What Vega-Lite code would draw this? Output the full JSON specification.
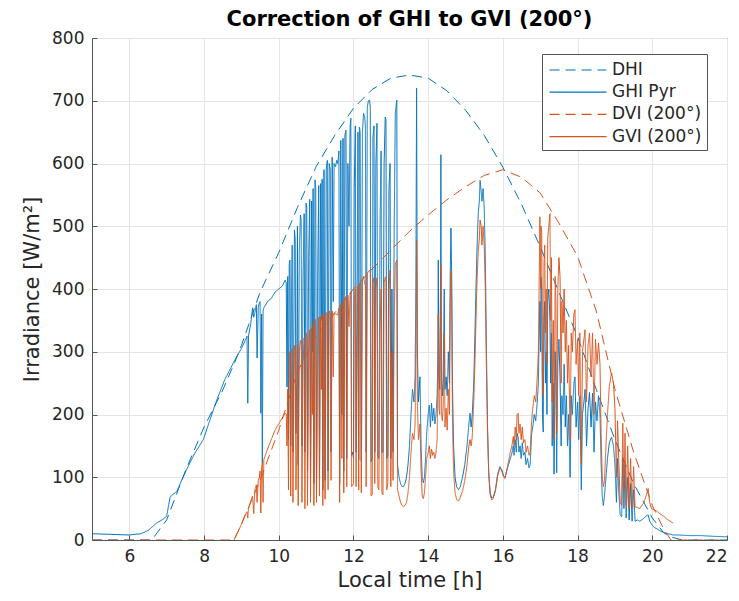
{
  "$schema": "https://vega.github.io/schema/vega-lite/v6.json",
  "width": 635,
  "height": 502,
  "autosize": {"type": "none"},
  "padding": {"left": 92, "top": 38, "right": 12, "bottom": 61},
  "background": "white",
  "title": {"text": "Correction of GHI to GVI (200°)", "fontSize": 21, "fontWeight": "bold", "font": "DejaVu Sans", "color": "#000000", "offset": -1},
  "config": {
    "view": {"stroke": "#555555", "strokeWidth": 1},
    "axis": {"labelFont": "DejaVu Sans", "titleFont": "DejaVu Sans", "labelFontSize": 17, "titleFontSize": 21, "titleFontWeight": "normal", "labelColor": "#262626", "titleColor": "#262626", "domainColor": "#555555", "tickColor": "#555555", "gridColor": "#e4e4e4", "tickSize": -5, "labelPadding": 13},
    "legend": {"labelFont": "DejaVu Sans", "labelFontSize": 17, "labelColor": "#262626"}
  },
  "datasets": {
    "meas": [
      {"t":5.0,"ghi":10},{"t":5.5,"ghi":9},{"t":6.0,"ghi":8},{"t":6.3,"ghi":10},{"t":6.5,"ghi":15},{"t":6.73,"ghi":27},{"t":6.9,"ghi":33},{"t":7.0,"ghi":38},{"t":7.05,"ghi":55},{"t":7.09,"ghi":68},{"t":7.15,"ghi":72},{"t":7.27,"ghi":77},{"t":7.4,"ghi":95},{"t":7.53,"ghi":112},{"t":7.75,"ghi":138},{"t":7.98,"ghi":160},{"t":8.15,"ghi":190},{"t":8.34,"ghi":223},{"t":8.55,"ghi":255},
      {"t":8.8,"ghi":284,"gvi":0},{"t":8.9,"ghi":295,"gvi":12},{"t":9.0,"ghi":305,"gvi":25},{"t":9.1,"ghi":318,"gvi":40},{"t":9.15,"ghi":325,"gvi":45},{"t":9.17,"ghi":218,"gvi":35},{"t":9.19,"ghi":325,"gvi":50},{"t":9.25,"ghi":345,"gvi":62},{"t":9.3,"ghi":370,"gvi":70},{"t":9.33,"ghi":355,"gvi":42},{"t":9.36,"ghi":362,"gvi":80},{"t":9.4,"ghi":375,"gvi":88},{"t":9.42,"ghi":290,"gvi":60},{"t":9.45,"ghi":370,"gvi":95},{"t":9.48,"ghi":378,"gvi":100},{"t":9.5,"ghi":380,"gvi":110},{"t":9.52,"ghi":202,"gvi":43},{"t":9.54,"ghi":360,"gvi":115},{"t":9.56,"ghi":123,"gvi":123},{"t":9.58,"ghi":365,"gvi":60},{"t":9.6,"ghi":370,"gvi":128},{"t":9.7,"ghi":380,"gvi":145},{"t":9.8,"ghi":385,"gvi":160},{"t":9.9,"ghi":395,"gvi":175},{"t":10.0,"ghi":400,"gvi":185},{"t":10.1,"ghi":405,"gvi":195},{"t":10.17,"ghi":414,"gvi":202},
      {"t":10.20,"ghi":410,"gvi":200},{"t":10.22,"ghi":244,"gvi":150},{"t":10.24,"ghi":420,"gvi":240},{"t":10.26,"ghi":160,"gvi":80},{"t":10.28,"ghi":440,"gvi":290},{"t":10.30,"ghi":446,"gvi":300},{"t":10.32,"ghi":150,"gvi":70},{"t":10.34,"ghi":380,"gvi":250},{"t":10.36,"ghi":470,"gvi":305},{"t":10.38,"ghi":140,"gvi":60},{"t":10.40,"ghi":300,"gvi":200},{"t":10.42,"ghi":494,"gvi":310},{"t":10.44,"ghi":480,"gvi":300},{"t":10.46,"ghi":170,"gvi":80},{"t":10.48,"ghi":250,"gvi":140},{"t":10.50,"ghi":500,"gvi":312},{"t":10.52,"ghi":120,"gvi":55},{"t":10.55,"ghi":460,"gvi":300},{"t":10.58,"ghi":518,"gvi":318},{"t":10.60,"ghi":510,"gvi":315},{"t":10.62,"ghi":150,"gvi":60},{"t":10.65,"ghi":420,"gvi":280},{"t":10.68,"ghi":520,"gvi":322},{"t":10.70,"ghi":140,"gvi":50},{"t":10.73,"ghi":537,"gvi":330},{"t":10.75,"ghi":530,"gvi":328},{"t":10.77,"ghi":110,"gvi":55},{"t":10.80,"ghi":450,"gvi":300},{"t":10.83,"ghi":543,"gvi":335},{"t":10.85,"ghi":100,"gvi":60},{"t":10.88,"ghi":540,"gvi":338},{"t":10.90,"ghi":300,"gvi":200},{"t":10.92,"ghi":560,"gvi":345},{"t":10.94,"ghi":90,"gvi":55},{"t":10.97,"ghi":574,"gvi":352},{"t":10.99,"ghi":560,"gvi":348},
      {"t":11.01,"ghi":80,"gvi":60},{"t":11.04,"ghi":420,"gvi":280},{"t":11.07,"ghi":565,"gvi":355},{"t":11.09,"ghi":100,"gvi":70},{"t":11.12,"ghi":568,"gvi":356},{"t":11.14,"ghi":350,"gvi":240},{"t":11.16,"ghi":575,"gvi":358},{"t":11.18,"ghi":80,"gvi":55},{"t":11.21,"ghi":590,"gvi":360},{"t":11.24,"ghi":95,"gvi":65},{"t":11.27,"ghi":590,"gvi":362},{"t":11.30,"ghi":605,"gvi":362},{"t":11.32,"ghi":110,"gvi":80},{"t":11.35,"ghi":600,"gvi":365},{"t":11.38,"ghi":590,"gvi":360},{"t":11.40,"ghi":140,"gvi":95},{"t":11.43,"ghi":610,"gvi":365},{"t":11.46,"ghi":380,"gvi":260},{"t":11.48,"ghi":600,"gvi":362},{"t":11.52,"ghi":595,"gvi":360},{"t":11.55,"ghi":605,"gvi":360},{"t":11.58,"ghi":600,"gvi":358},{"t":11.61,"ghi":620,"gvi":370},{"t":11.63,"ghi":90,"gvi":60},{"t":11.66,"ghi":637,"gvi":375},{"t":11.69,"ghi":200,"gvi":130},{"t":11.72,"ghi":640,"gvi":380},{"t":11.74,"ghi":110,"gvi":75},{"t":11.77,"ghi":645,"gvi":384},{"t":11.80,"ghi":653,"gvi":388},{"t":11.82,"ghi":130,"gvi":85},{"t":11.85,"ghi":600,"gvi":390},{"t":11.88,"ghi":500,"gvi":340},{"t":11.91,"ghi":660,"gvi":392},{"t":11.93,"ghi":672,"gvi":396},{"t":11.95,"ghi":135,"gvi":85},{"t":11.98,"ghi":140,"gvi":88},
      {"t":12.00,"ghi":130,"gvi":90},{"t":12.02,"ghi":560,"gvi":380},{"t":12.05,"ghi":660,"gvi":400},{"t":12.07,"ghi":140,"gvi":85},{"t":12.10,"ghi":420,"gvi":300},{"t":12.12,"ghi":650,"gvi":405},{"t":12.14,"ghi":128,"gvi":80},{"t":12.16,"ghi":658,"gvi":408},{"t":12.18,"ghi":650,"gvi":410},{"t":12.21,"ghi":125,"gvi":75},{"t":12.24,"ghi":650,"gvi":415},{"t":12.27,"ghi":680,"gvi":420},{"t":12.30,"ghi":674,"gvi":409},{"t":12.32,"ghi":660,"gvi":405},{"t":12.34,"ghi":140,"gvi":85},{"t":12.37,"ghi":690,"gvi":425},{"t":12.40,"ghi":700,"gvi":428},{"t":12.43,"ghi":701,"gvi":430},{"t":12.45,"ghi":690,"gvi":425},{"t":12.47,"ghi":125,"gvi":70},{"t":12.50,"ghi":130,"gvi":72},{"t":12.52,"ghi":640,"gvi":410},{"t":12.55,"ghi":660,"gvi":418},{"t":12.57,"ghi":140,"gvi":90},{"t":12.60,"ghi":600,"gvi":400},{"t":12.63,"ghi":664,"gvi":418},{"t":12.65,"ghi":135,"gvi":85},{"t":12.68,"ghi":130,"gvi":80},{"t":12.71,"ghi":500,"gvi":330},{"t":12.74,"ghi":620,"gvi":400},{"t":12.76,"ghi":140,"gvi":75},{"t":12.79,"ghi":140,"gvi":72},{"t":12.82,"ghi":600,"gvi":410},{"t":12.85,"ghi":674,"gvi":419},{"t":12.87,"ghi":670,"gvi":418},{"t":12.89,"ghi":130,"gvi":80},{"t":12.92,"ghi":135,"gvi":90},{"t":12.95,"ghi":560,"gvi":400},{"t":12.98,"ghi":600,"gvi":430},
      {"t":13.00,"ghi":130,"gvi":85},{"t":13.03,"ghi":400,"gvi":300},{"t":13.06,"ghi":140,"gvi":95},{"t":13.09,"ghi":500,"gvi":350},{"t":13.12,"ghi":680,"gvi":440},{"t":13.16,"ghi":701,"gvi":446},{"t":13.18,"ghi":120,"gvi":80},{"t":13.22,"ghi":100,"gvi":70},{"t":13.26,"ghi":90,"gvi":60},{"t":13.30,"ghi":85,"gvi":55},{"t":13.34,"ghi":85,"gvi":53},{"t":13.38,"ghi":90,"gvi":55},{"t":13.42,"ghi":100,"gvi":60},{"t":13.46,"ghi":120,"gvi":75},{"t":13.50,"ghi":150,"gvi":100},{"t":13.54,"ghi":200,"gvi":140},{"t":13.58,"ghi":240,"gvi":170},{"t":13.62,"ghi":220,"gvi":160},{"t":13.65,"ghi":260,"gvi":185},{"t":13.67,"ghi":400,"gvi":300},{"t":13.69,"ghi":720,"gvi":478},{"t":13.71,"ghi":300,"gvi":220},{"t":13.74,"ghi":220,"gvi":160},{"t":13.78,"ghi":260,"gvi":185},{"t":13.81,"ghi":150,"gvi":110},{"t":13.84,"ghi":100,"gvi":70},{"t":13.87,"ghi":91,"gvi":66},{"t":13.90,"ghi":100,"gvi":75},{"t":13.93,"ghi":130,"gvi":100},
      {"t":13.96,"ghi":170,"gvi":130},{"t":14.00,"ghi":200,"gvi":140},{"t":14.03,"ghi":215,"gvi":150},{"t":14.06,"ghi":180,"gvi":130},{"t":14.09,"ghi":218,"gvi":145},{"t":14.12,"ghi":190,"gvi":135},{"t":14.15,"ghi":210,"gvi":140},{"t":14.18,"ghi":185,"gvi":130},{"t":14.21,"ghi":200,"gvi":140},{"t":14.24,"ghi":230,"gvi":160},{"t":14.26,"ghi":300,"gvi":250},{"t":14.27,"ghi":446,"gvi":360},{"t":14.29,"ghi":260,"gvi":210},{"t":14.31,"ghi":240,"gvi":200},{"t":14.33,"ghi":400,"gvi":350},{"t":14.34,"ghi":614,"gvi":440},{"t":14.36,"ghi":260,"gvi":200},{"t":14.38,"ghi":230,"gvi":190},{"t":14.40,"ghi":250,"gvi":210},{"t":14.43,"ghi":400,"gvi":330},{"t":14.45,"ghi":240,"gvi":180},{"t":14.48,"ghi":260,"gvi":210},{"t":14.51,"ghi":230,"gvi":175},{"t":14.54,"ghi":300,"gvi":240},{"t":14.57,"ghi":250,"gvi":200},{"t":14.59,"ghi":420,"gvi":380},{"t":14.61,"ghi":497,"gvi":430},{"t":14.63,"ghi":420,"gvi":380},{"t":14.65,"ghi":250,"gvi":190},{"t":14.68,"ghi":150,"gvi":110},{"t":14.72,"ghi":100,"gvi":75},{"t":14.76,"ghi":85,"gvi":65},{"t":14.81,"ghi":80,"gvi":62},{"t":14.86,"ghi":85,"gvi":68},{"t":14.92,"ghi":100,"gvi":78},{"t":14.98,"ghi":120,"gvi":95},
      {"t":15.04,"ghi":150,"gvi":120},{"t":15.09,"ghi":185,"gvi":150},{"t":15.12,"ghi":202,"gvi":160},{"t":15.15,"ghi":180,"gvi":150},{"t":15.18,"ghi":200,"gvi":165},{"t":15.22,"ghi":250,"gvi":220},{"t":15.26,"ghi":350,"gvi":300},{"t":15.30,"ghi":450,"gvi":400},{"t":15.34,"ghi":520,"gvi":460},{"t":15.37,"ghi":540,"gvi":480},{"t":15.39,"ghi":573,"gvi":510},{"t":15.42,"ghi":555,"gvi":500},{"t":15.44,"ghi":540,"gvi":470},{"t":15.47,"ghi":560,"gvi":500},{"t":15.50,"ghi":530,"gvi":470},{"t":15.53,"ghi":450,"gvi":400},{"t":15.56,"ghi":300,"gvi":270},{"t":15.59,"ghi":180,"gvi":170},{"t":15.62,"ghi":110,"gvi":105},{"t":15.66,"ghi":75,"gvi":72},{"t":15.70,"ghi":67,"gvi":64},{"t":15.74,"ghi":68,"gvi":66},{"t":15.80,"ghi":80,"gvi":78},{"t":15.86,"ghi":105,"gvi":102},{"t":15.92,"ghi":117,"gvi":115},{"t":15.97,"ghi":112,"gvi":110},
      {"t":16.02,"ghi":102,"gvi":100},{"t":16.06,"ghi":100,"gvi":98},{"t":16.10,"ghi":110,"gvi":110},{"t":16.15,"ghi":120,"gvi":125},{"t":16.20,"ghi":130,"gvi":140},{"t":16.24,"ghi":138,"gvi":150},{"t":16.28,"ghi":150,"gvi":165},{"t":16.30,"ghi":135,"gvi":150},{"t":16.33,"ghi":160,"gvi":180},{"t":16.36,"ghi":140,"gvi":160},{"t":16.38,"ghi":170,"gvi":200},{"t":16.41,"ghi":163,"gvi":202},{"t":16.43,"ghi":140,"gvi":170},{"t":16.46,"ghi":150,"gvi":185},{"t":16.49,"ghi":130,"gvi":160},{"t":16.52,"ghi":155,"gvi":180},{"t":16.55,"ghi":135,"gvi":155},{"t":16.59,"ghi":140,"gvi":160},{"t":16.62,"ghi":120,"gvi":140},{"t":16.66,"ghi":130,"gvi":150},{"t":16.70,"ghi":115,"gvi":135},{"t":16.73,"ghi":120,"gvi":140},{"t":16.77,"ghi":170,"gvi":190},{"t":16.80,"ghi":180,"gvi":210},{"t":16.84,"ghi":200,"gvi":230},{"t":16.88,"ghi":190,"gvi":220},{"t":16.92,"ghi":220,"gvi":260},{"t":16.95,"ghi":250,"gvi":300},{"t":16.97,"ghi":320,"gvi":400},{"t":16.99,"ghi":380,"gvi":515},
      {"t":17.01,"ghi":300,"gvi":400},{"t":17.02,"ghi":419,"gvi":500},{"t":17.04,"ghi":400,"gvi":490},{"t":17.06,"ghi":200,"gvi":260},{"t":17.08,"ghi":172,"gvi":230},{"t":17.10,"ghi":350,"gvi":440},{"t":17.12,"ghi":380,"gvi":470},{"t":17.14,"ghi":250,"gvi":330},{"t":17.16,"ghi":300,"gvi":400},{"t":17.18,"ghi":200,"gvi":280},{"t":17.20,"ghi":380,"gvi":480},{"t":17.23,"ghi":400,"gvi":500},{"t":17.26,"ghi":350,"gvi":520},{"t":17.28,"ghi":250,"gvi":350},{"t":17.30,"ghi":330,"gvi":450},{"t":17.32,"ghi":150,"gvi":220},{"t":17.35,"ghi":250,"gvi":350},{"t":17.37,"ghi":105,"gvi":160},{"t":17.40,"ghi":300,"gvi":420},{"t":17.42,"ghi":250,"gvi":380},{"t":17.44,"ghi":107,"gvi":170},{"t":17.47,"ghi":280,"gvi":400},{"t":17.50,"ghi":320,"gvi":450},{"t":17.53,"ghi":260,"gvi":420},{"t":17.56,"ghi":150,"gvi":250},{"t":17.58,"ghi":230,"gvi":380},{"t":17.61,"ghi":200,"gvi":330},{"t":17.64,"ghi":280,"gvi":400},{"t":17.67,"ghi":180,"gvi":300},{"t":17.70,"ghi":230,"gvi":350},{"t":17.73,"ghi":150,"gvi":250},{"t":17.76,"ghi":200,"gvi":310},{"t":17.80,"ghi":100,"gvi":160},{"t":17.83,"ghi":230,"gvi":330},{"t":17.86,"ghi":200,"gvi":300},{"t":17.90,"ghi":250,"gvi":360},{"t":17.93,"ghi":260,"gvi":367},{"t":17.96,"ghi":180,"gvi":280},
      {"t":18.00,"ghi":220,"gvi":320},{"t":18.03,"ghi":160,"gvi":230},{"t":18.06,"ghi":230,"gvi":330},{"t":18.10,"ghi":80,"gvi":120},{"t":18.13,"ghi":200,"gvi":300},{"t":18.17,"ghi":220,"gvi":320},{"t":18.20,"ghi":240,"gvi":335},{"t":18.24,"ghi":150,"gvi":220},{"t":18.28,"ghi":210,"gvi":310},{"t":18.32,"ghi":235,"gvi":330},{"t":18.36,"ghi":180,"gvi":260},{"t":18.40,"ghi":234,"gvi":330},{"t":18.44,"ghi":140,"gvi":200},{"t":18.48,"ghi":220,"gvi":320},{"t":18.52,"ghi":190,"gvi":280},{"t":18.56,"ghi":230,"gvi":314},{"t":18.60,"ghi":200,"gvi":280},{"t":18.63,"ghi":120,"gvi":170},{"t":18.66,"ghi":70,"gvi":100},{"t":18.69,"ghi":55,"gvi":85},{"t":18.72,"ghi":70,"gvi":95},{"t":18.76,"ghi":100,"gvi":150},{"t":18.80,"ghi":130,"gvi":200},{"t":18.85,"ghi":155,"gvi":245},{"t":18.91,"ghi":164,"gvi":266},{"t":18.96,"ghi":150,"gvi":250},
      {"t":19.00,"ghi":120,"gvi":210},{"t":19.04,"ghi":60,"gvi":100},{"t":19.07,"ghi":130,"gvi":190},{"t":19.10,"ghi":80,"gvi":130},{"t":19.14,"ghi":40,"gvi":60},{"t":19.18,"ghi":37,"gvi":55},{"t":19.21,"ghi":130,"gvi":186},{"t":19.24,"ghi":50,"gvi":80},{"t":19.27,"ghi":120,"gvi":170},{"t":19.30,"ghi":35,"gvi":55},{"t":19.34,"ghi":100,"gvi":150},{"t":19.38,"ghi":32,"gvi":50},{"t":19.42,"ghi":90,"gvi":130},{"t":19.46,"ghi":30,"gvi":50},{"t":19.50,"ghi":80,"gvi":117},{"t":19.54,"ghi":30,"gvi":53},{"t":19.60,"ghi":32,"gvi":52},{"t":19.66,"ghi":30,"gvi":50},{"t":19.72,"ghi":32,"gvi":55},{"t":19.78,"ghi":35,"gvi":60},{"t":19.83,"ghi":38,"gvi":70},{"t":19.89,"ghi":40,"gvi":82},{"t":19.93,"ghi":30,"gvi":60},{"t":19.98,"ghi":25,"gvi":50},
      {"t":20.05,"ghi":20,"gvi":48},{"t":20.12,"ghi":18,"gvi":46},{"t":20.20,"ghi":15,"gvi":42},{"t":20.30,"ghi":12,"gvi":38},{"t":20.40,"ghi":10,"gvi":33},{"t":20.50,"ghi":9,"gvi":29},{"t":20.56,"ghi":8,"gvi":27},
      {"t":20.7,"ghi":8},{"t":21.0,"ghi":7},{"t":21.3,"ghi":7},{"t":21.6,"ghi":6},{"t":22.0,"ghi":5}
    ],
    "model": [
      {"t":5.0,"dhi":0,"dvi":0},{"t":6.0,"dhi":0,"dvi":0},{"t":6.6,"dhi":0,"dvi":0},{"t":7.0,"dhi":32,"dvi":0},{"t":7.5,"dhi":110,"dvi":0},{"t":8.0,"dhi":180,"dvi":0},{"t":8.5,"dhi":239,"dvi":0},{"t":8.8,"dhi":280,"dvi":0},{"t":9.0,"dhi":310,"dvi":25},{"t":9.5,"dhi":395,"dvi":95},{"t":10.0,"dhi":458,"dvi":175},{"t":10.5,"dhi":530,"dvi":268},{"t":11.0,"dhi":595,"dvi":325},{"t":11.5,"dhi":645,"dvi":362},{"t":12.0,"dhi":688,"dvi":400},{"t":12.5,"dhi":718,"dvi":432},{"t":13.0,"dhi":736,"dvi":462},{"t":13.5,"dhi":741,"dvi":492},{"t":14.0,"dhi":736,"dvi":518},{"t":14.5,"dhi":716,"dvi":542},{"t":15.0,"dhi":685,"dvi":563},{"t":15.5,"dhi":645,"dvi":581},{"t":16.0,"dhi":594,"dvi":590},{"t":16.5,"dhi":535,"dvi":578},{"t":17.0,"dhi":467,"dvi":553},{"t":17.5,"dhi":395,"dvi":505},{"t":18.0,"dhi":324,"dvi":452},{"t":18.5,"dhi":240,"dvi":365},{"t":19.0,"dhi":160,"dvi":240},{"t":19.5,"dhi":90,"dvi":140},{"t":20.0,"dhi":35,"dvi":55},{"t":20.3,"dhi":12,"dvi":18},{"t":20.5,"dhi":5,"dvi":0},{"t":20.8,"dhi":0,"dvi":0},{"t":22.0,"dhi":0,"dvi":0}
    ]
  },
  "encoding": {
    "x": {"field": "t", "type": "quantitative", "scale": {"domain": [5, 22], "nice": false}, "axis": {"title": "Local time [h]", "values": [6, 8, 10, 12, 14, 16, 18, 20, 22], "titlePadding": 5}}
  },
  "layer": [
    {
      "data": {"name": "model"},
      "mark": {"type": "line", "strokeWidth": 1, "clip": true},
      "encoding": {
        "y": {"field": "dhi", "type": "quantitative", "scale": {"domain": [0, 800], "nice": false}, "axis": {"title": "Irradiance [W/m²]", "values": [0, 100, 200, 300, 400, 500, 600, 700, 800], "titlePadding": 9}},
        "color": {"datum": "DHI", "scale": {"domain": ["DHI", "GHI Pyr", "DVI (200°)", "GVI (200°)"], "range": ["#0072BD", "#0072BD", "#D95319", "#D95319"]}, "legend": {"title": null, "orient": "none", "legendX": 450, "legendY": 16, "fillColor": "white", "strokeColor": "#555555", "padding": 5, "symbolType": "M-2.85,0L2.85,0", "symbolSize": 400, "symbolStrokeWidth": 1.2, "symbolOffset": 20, "labelOffset": 23, "rowPadding": 3.2}},
        "strokeDash": {"datum": "DHI", "scale": {"domain": ["DHI", "GHI Pyr", "DVI (200°)", "GVI (200°)"], "range": [[10, 6], [1, 0], [10, 6], [1, 0]]}, "legend": {"title": null, "orient": "none", "legendX": 450, "legendY": 16, "fillColor": "white", "strokeColor": "#555555", "padding": 5, "symbolType": "M-2.85,0L2.85,0", "symbolSize": 400, "symbolStrokeWidth": 1.2, "symbolOffset": 20, "labelOffset": 23, "rowPadding": 3.2}}
      }
    },
    {
      "data": {"name": "meas"},
      "mark": {"type": "line", "strokeWidth": 1, "clip": true},
      "encoding": {
        "y": {"field": "ghi", "type": "quantitative"},
        "color": {"datum": "GHI Pyr"},
        "strokeDash": {"datum": "GHI Pyr"}
      }
    },
    {
      "data": {"name": "model"},
      "mark": {"type": "line", "strokeWidth": 1, "clip": true},
      "encoding": {
        "y": {"field": "dvi", "type": "quantitative"},
        "color": {"datum": "DVI (200°)"},
        "strokeDash": {"datum": "DVI (200°)"}
      }
    },
    {
      "data": {"name": "meas"},
      "mark": {"type": "line", "strokeWidth": 1, "clip": true},
      "encoding": {
        "y": {"field": "gvi", "type": "quantitative"},
        "color": {"datum": "GVI (200°)"},
        "strokeDash": {"datum": "GVI (200°)"}
      }
    }
  ]
}
